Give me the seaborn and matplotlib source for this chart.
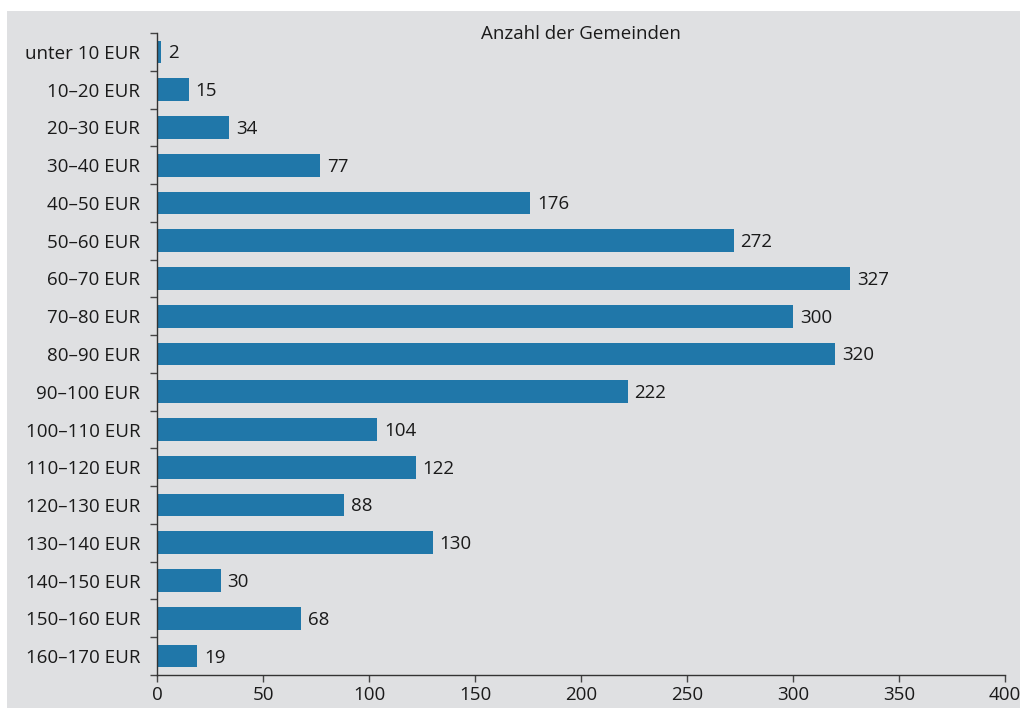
import numpy as np
import pandas as pd
import matplotlib
matplotlib.use("Agg")
import matplotlib.pyplot as plt
import seaborn as sns
from matplotlib.patches import Rectangle

# Data
categories = ["unter 10 EUR", "10–20 EUR", "20–30 EUR", "30–40 EUR", "40–50 EUR",
              "50–60 EUR", "60–70 EUR", "70–80 EUR", "80–90 EUR", "90–100 EUR",
              "100–110 EUR", "110–120 EUR", "120–130 EUR", "130–140 EUR",
              "140–150 EUR", "150–160 EUR", "160–170 EUR"]
counts = [2, 15, 34, 77, 176, 272, 327, 300, 320, 222, 104, 122, 88, 130, 30, 68, 19]
x_ticks = [0, 50, 100, 150, 200, 250, 300, 350, 400]

df = pd.DataFrame({"Kategorie": categories, "Anzahl": counts})

sns.set_style("white")
plt.rcParams['font.family'] = ['Open Sans', 'DejaVu Sans']

bg = "#dfe0e2"
txt = "#1a1a1a"
fs = 13.5
fig = plt.figure(figsize=(10.21, 7.08), dpi=100)
fig.patch.set_facecolor("white")
# grey panel behind the chart
fig.patches.append(Rectangle((7 / 1021, 0), (1020 - 7) / 1021, (708 - 11) / 708,
                             transform=fig.transFigure, facecolor=bg,
                             edgecolor="none", zorder=-10))

ax = fig.add_axes([157 / 1021, (708 - 675) / 708, (1005 - 157) / 1021, (675 - 33) / 708])
ax.set_zorder(1)
ax.set_facecolor(bg)

sns.barplot(data=df, y="Kategorie", x="Anzahl", orient="h", color="#2077a9",
            saturation=1, width=0.6, linewidth=0, ax=ax)

for i, v in enumerate(counts):
    ax.annotate(str(v), xy=(v, i), xytext=(5, -1), textcoords="offset points",
                va="center", ha="left", fontsize=fs, color=txt)

ax.set_xlim(0, 400)
ax.set_ylim(len(categories) - 0.5, -0.5)
ax.set_xticks(x_ticks)
ax.set_xlabel("")
ax.set_ylabel("")
ax.set_yticks(np.arange(-0.5, len(categories) + 0.5, 1), minor=True)
ax.tick_params(axis="y", which="major", left=False, length=0, pad=12,
               labelsize=fs, labelcolor=txt)
ax.tick_params(axis="y", which="minor", left=True, length=5, width=1,
               color="#444444", direction="out")
ax.tick_params(axis="x", bottom=True, length=5, width=1, color="#444444",
               labelsize=fs, labelcolor=txt, pad=3)

for s in ["top", "right"]:
    ax.spines[s].set_visible(False)
for s in ["left", "bottom"]:
    ax.spines[s].set_color("#333333")
    ax.spines[s].set_linewidth(1)

ax.text(0.5, 0.998, "Anzahl der Gemeinden", transform=ax.transAxes, ha="center",
        va="center", fontsize=fs, color=txt)

fig.savefig("out.png", dpi=100, facecolor=fig.get_facecolor())
